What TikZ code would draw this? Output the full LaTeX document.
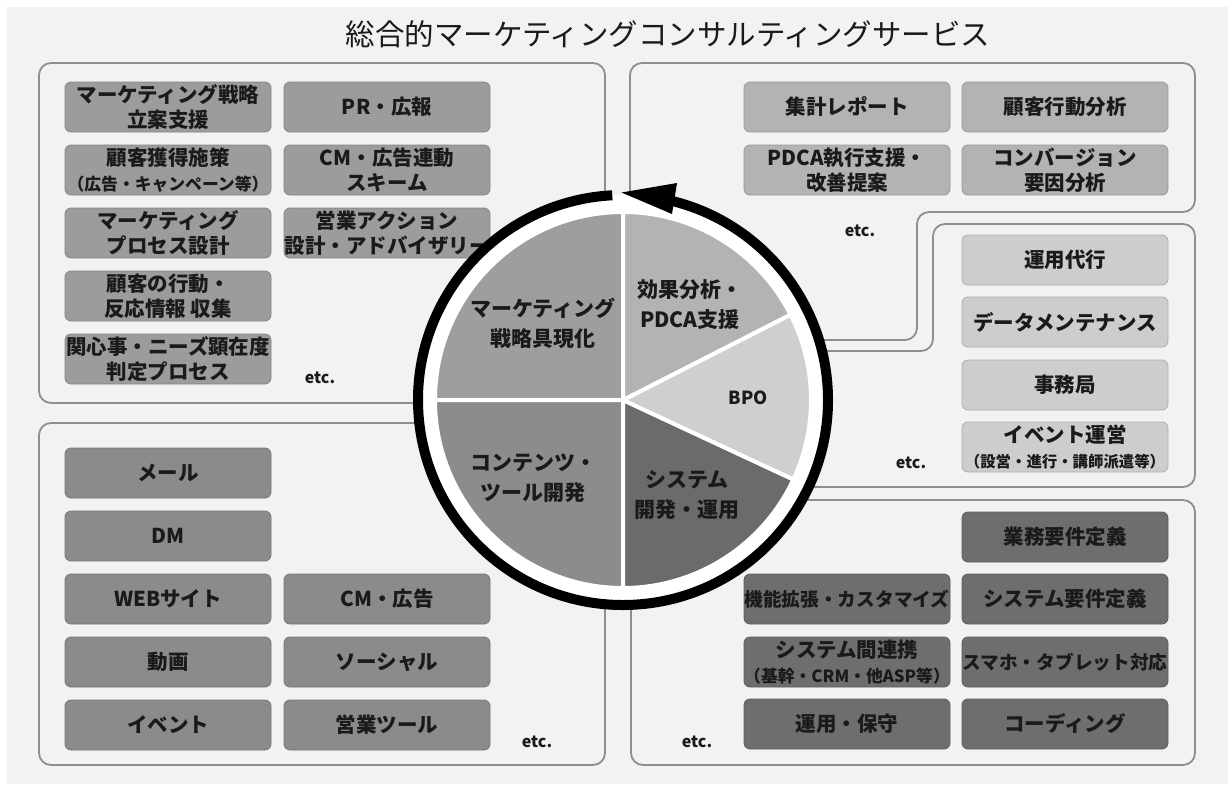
\documentclass[tikz,border=0pt]{standalone}
\usepackage{fontspec}
\setmainfont{Noto Sans CJK JP}
\definecolor{bg}{HTML}{F2F2F2}
\definecolor{pline}{HTML}{8E8E8E}
\definecolor{txt}{HTML}{1A1A1A}
\definecolor{tlc}{HTML}{9C9C9C}
\definecolor{trc}{HTML}{B3B3B3}
\definecolor{mrc}{HTML}{CDCDCD}
\definecolor{blc}{HTML}{8B8B8B}
\definecolor{brc}{HTML}{6E6E6E}
\definecolor{pul}{HTML}{9E9E9E}
\definecolor{pur}{HTML}{B3B3B3}
\definecolor{pbpo}{HTML}{CFCFCF}
\definecolor{pll}{HTML}{8C8C8C}
\definecolor{plr}{HTML}{6B6B6B}
\newcommand{\bxfont}{\fontsize{20.5}{25}\selectfont\bfseries}
\newcommand{\smfont}{\fontsize{16.8}{20}\selectfont\bfseries}
\newcommand{\xsmfont}{\fontsize{15.4}{20}\selectfont\bfseries}
\newcommand{\narrowfont}{\fontsize{18.7}{25}\selectfont\bfseries}
\begin{document}
\begin{tikzpicture}[x=1pt,y=-1pt,
  panel/.style={draw=pline, line width=1.8pt, fill=bg, rounded corners=12pt},
  bx/.style={rounded corners=6pt, minimum width=206pt, minimum height=50pt,
    inner sep=0pt, align=center, font=\bxfont, text=txt, line width=0.8pt},
  tlb/.style={bx, fill=tlc, draw=tlc!85!black},
  trb/.style={bx, fill=trc, draw=trc!85!black},
  mrb/.style={bx, fill=mrc, draw=mrc!85!black},
  blb/.style={bx, fill=blc, draw=blc!85!black},
  brb/.style={bx, fill=brc, draw=brc!85!black},
  etcl/.style={font=\fontsize{16}{16}\selectfont\bfseries, text=txt, inner sep=0pt},
  sector/.style={draw=white, line width=4pt, line join=round},
  plabel/.style={font=\fontsize{21}{30}\selectfont\bfseries, text=txt, align=center, inner sep=0pt}
]
\useasboundingbox (0,0) rectangle (1228,784);
\fill[white] (0,0) rectangle (1228,784);
\fill[bg] (7,7) rectangle (1228,784);

% title
\node[font=\fontsize{29.5}{29.5}\selectfont, text=txt] (title) at (668,34) {総合的マーケティングコンサルティングサービス};

% panels
\draw[panel] (39,63) rectangle (605,403);
\draw[panel] (39,423) rectangle (605,765);
\draw[panel] (630,63) -- (1195,63) -- (1195,212) -- (917,212) -- (917,340) -- (630,340) -- cycle;
\draw[panel] (933,224) -- (1195,224) -- (1195,487) -- (640,487) -- (640,351) -- (933,351) -- cycle;
\draw[panel] (631,500) rectangle (1195,765);

% top-left boxes
\node[tlb] (tl11) at (168,107) {マーケティング戦略\\立案支援};
\node[tlb] (tl12) at (387,107) {PR・広報};
\node[tlb] (tl21) at (168,170) {顧客獲得施策\\{\smfont （広告・キャンペーン等）}};
\node[tlb] (tl22) at (387,170) {CM・広告連動\\スキーム};
\node[tlb] (tl31) at (168,233) {マーケティング\\プロセス設計};
\node[tlb] (tl32) at (387,233) {営業アクション\\設計・アドバイザリー};
\node[tlb] (tl41) at (168,296) {顧客の行動・\\反応情報 収集};
\node[tlb] (tl51) at (168,359) {関心事・ニーズ顕在度\\判定プロセス};
\node[etcl] (etc1) at (320,378) {etc.};

% top-right boxes
\node[trb] (tr11) at (847,107) {集計レポート};
\node[trb] (tr12) at (1065,107) {顧客行動分析};
\node[trb] (tr21) at (847,170) {PDCA執行支援・\\改善提案};
\node[trb] (tr22) at (1065,170) {コンバージョン\\要因分析};
\node[etcl] (etc2) at (860,231) {etc.};

% middle-right boxes
\node[mrb] (mr1) at (1065,260) {運用代行};
\node[mrb] (mr2) at (1065,322) {データメンテナンス};
\node[mrb] (mr3) at (1065,385) {事務局};
\node[mrb] (mr4) at (1065,447) {イベント運営\\{\xsmfont （設営・進行・講師派遣等）}};
\node[etcl] (etc3) at (911,463) {etc.};

% bottom-left boxes
\node[blb] (bl11) at (168,473) {メール};
\node[blb] (bl21) at (168,536) {DM};
\node[blb] (bl31) at (168,599) {WEBサイト};
\node[blb] (bl32) at (387,599) {CM・広告};
\node[blb] (bl41) at (168,662) {動画};
\node[blb] (bl42) at (387,662) {ソーシャル};
\node[blb] (bl51) at (168,725) {イベント};
\node[blb] (bl52) at (387,725) {営業ツール};
\node[etcl] (etc4) at (537,742) {etc.};

% bottom-right boxes
\node[brb] (br12) at (1065,537) {業務要件定義};
\node[brb, font=\narrowfont] (br21) at (847,599) {機能拡張・カスタマイズ};
\node[brb] (br22) at (1065,599) {システム要件定義};
\node[brb] (br31) at (847,662) {システム間連携\\{\smfont （基幹・CRM・他ASP等）}};
\node[brb, font=\narrowfont] (br32) at (1065,662) {スマホ・タブレット対応};
\node[brb] (br41) at (847,724) {運用・保守};
\node[brb] (br42) at (1065,724) {コーディング};
\node[etcl] (etc5) at (697,742) {etc.};

% central circle
\coordinate (c) at (623,400);
\fill[white] (c) circle[radius=205];
\filldraw[sector, fill=pul] (c) -- ++(180:188) arc[start angle=180, end angle=270, radius=188] -- cycle;
\filldraw[sector, fill=pll] (c) -- ++(90:188) arc[start angle=90, end angle=180, radius=188] -- cycle;
\filldraw[sector, fill=plr] (c) -- ++(25:188) arc[start angle=25, end angle=90, radius=188] -- cycle;
\filldraw[sector, fill=pbpo] (c) -- ++(-27:188) arc[start angle=-27, end angle=25, radius=188] -- cycle;
\filldraw[sector, fill=pur] (c) -- ++(-90:188) arc[start angle=-90, end angle=-27, radius=188] -- cycle;

% ring with arrow
\draw[line width=10pt, black] (c) ++(-93:205) arc[start angle=-93, end angle=-436, radius=205];
\fill[black] (621.5,192.5) -- (677,183) -- (672,214) -- cycle;

% pie labels
\node[plabel] (p1) at (543,323) {マーケティング\\戦略具現化};
\node[plabel] (p2) at (533,478) {コンテンツ・\\ツール開発};
\node[plabel] (p3) at (690,305) {効果分析・\\PDCA支援};
\node[plabel, font=\fontsize{18}{30}\selectfont\bfseries] (p4) at (748,398) {BPO};
\node[plabel] (p5) at (687,495) {システム\\開発・運用};
\end{tikzpicture}
\end{document}
